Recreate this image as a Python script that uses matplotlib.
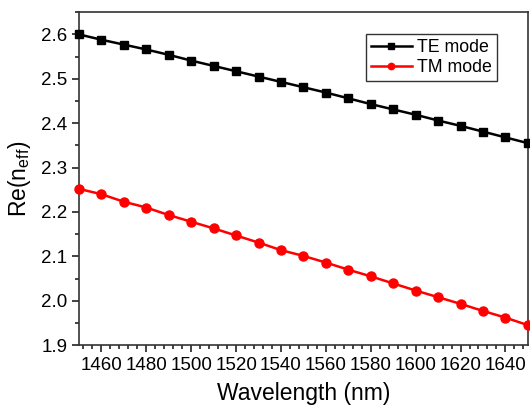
import matplotlib
matplotlib.use("Agg")
import matplotlib.pyplot as plt
from matplotlib.ticker import MultipleLocator

plt.rcParams['font.family'] = ['Liberation Sans', 'DejaVu Sans']
plt.rcParams['mathtext.fontset'] = 'custom'
plt.rcParams['mathtext.rm'] = 'Liberation Sans'
plt.rcParams['mathtext.it'] = 'Liberation Sans:italic'

wavelength = [1450, 1460, 1470, 1480, 1490, 1500, 1510, 1520, 1530, 1540, 1550,
              1560, 1570, 1580, 1590, 1600, 1610, 1620, 1630, 1640, 1650]
te_mode = [2.600, 2.588, 2.577, 2.566, 2.554, 2.541, 2.529, 2.517, 2.505, 2.493, 2.481,
           2.469, 2.456, 2.443, 2.431, 2.419, 2.406, 2.394, 2.381, 2.368, 2.355]
tm_mode = [2.252, 2.240, 2.223, 2.210, 2.193, 2.178, 2.163, 2.147, 2.131, 2.114, 2.101,
           2.086, 2.070, 2.055, 2.039, 2.023, 2.008, 1.993, 1.977, 1.962, 1.945]

fig = plt.figure(figsize=(5.30, 4.07), dpi=100)
ax = fig.add_axes([0.149, 0.152, 0.847, 0.818])

ax.plot(wavelength, te_mode, color='black', lw=1.8, marker='s', ms=6,
        label='TE mode', clip_on=False, zorder=3)
ax.plot(wavelength, tm_mode, color='#ff0000', lw=1.8, marker='o', ms=6.5,
        label='TM mode', clip_on=False, zorder=3)

ax.set_xlim(1450, 1650)
ax.set_ylim(1.9, 2.65)
ax.xaxis.set_minor_locator(MultipleLocator(4))
ax.yaxis.set_major_locator(MultipleLocator(0.1))
ax.yaxis.set_minor_locator(MultipleLocator(0.05))
ax.set_xticks(range(1460, 1641, 20))
ax.yaxis.set_major_formatter(plt.FormatStrFormatter('%.1f'))

ax.tick_params(axis='both', which='major', direction='out', length=5, width=1.2,
               labelsize=13.5, top=False, right=False, color='#222222')
ax.tick_params(axis='both', which='minor', direction='out', length=3, width=1.2,
               top=False, right=False, color='#222222')
for s in ax.spines.values():
    s.set_linewidth(1.2)
    s.set_color('#333333')

ax.set_xlabel('Wavelength (nm)', fontsize=16.5, labelpad=6)
ax.set_ylabel(r'Re(n$_{\mathrm{eff}}$)', fontsize=16.5, labelpad=6)

leg = ax.legend(loc='upper right', bbox_to_anchor=(0.932, 0.935), borderaxespad=0,
                fontsize=12.8, frameon=True, fancybox=False, edgecolor='black',
                handlelength=2.3, borderpad=0.3, labelspacing=0.15, handletextpad=0.3,
                markerscale=0.7)
leg.get_frame().set_linewidth(1.0)

fig.savefig('out.png', dpi=100)
